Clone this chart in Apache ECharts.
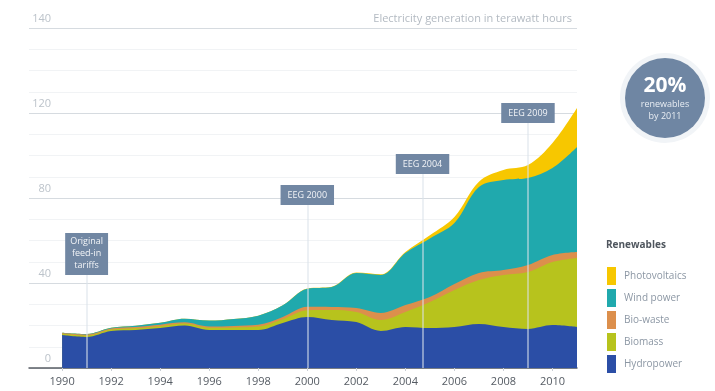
<!DOCTYPE html>
<html>
<head>
<meta charset="utf-8">
<script src="https://cdn.jsdelivr.net/npm/echarts@6/dist/echarts.min.js"></script>
<style>html,body{margin:0;padding:0;background:#fff}#c{width:715px;height:391px}</style>
</head>
<body>
<div id="c"></div>
<script>
const years = [1990,1991,1992,1993,1994,1995,1996,1997,1998,1999,2000,2001,2002,2003,2004,2005,2006,2007,2008,2009,2010,2011];
const hydropower    = [15.5,14.6,17.4,17.9,18.8,20.0,17.9,17.9,17.9,21.2,24.0,22.6,21.6,17.4,19.3,18.8,19.3,20.7,19.3,18.4,20.2,19.3];
const biomass       = [0.6,0.7,0.7,0.8,0.9,0.9,1.0,1.2,1.6,1.8,3.2,4.7,4.8,5.2,7.1,12.3,17.4,20.7,24.5,26.8,29.7,32.5];
const bioWaste      = [0.4,0.5,0.5,0.6,0.7,0.6,0.6,0.7,0.8,1.0,1.6,1.4,1.8,3.3,3.2,2.3,2.8,3.3,2.3,3.3,3.3,2.8];
const windPower     = [0.1,0.2,0.3,0.6,0.9,1.7,2.8,3.3,4.3,5.5,8.5,9.4,16.5,17.9,24.5,27.6,28.7,40.5,42.4,40.9,40.9,49.4];
const photovoltaics = [0,0,0,0,0,0,0,0,0,0,0.1,0.1,0.2,0.3,0.5,1.5,2.9,2.5,4.7,6.1,11.8,18.4];
const xTickLabels = [1990,1992,1994,1996,1998,2000,2002,2004,2006,2008,2010];
const yTickValues = [0,40,80,120,160];
const yTickLabels = ['0','40','80','120','140'];
const eventYears  = [1991, 2000, 2004.7, 2009];
const eventLabels = ['Original\nfeed-in\ntariffs', 'EEG 2000', 'EEG 2004', 'EEG 2009'];
const eventLineTops = [43.8, 76.7, 91.3, 115.3];

const names = ['Hydropower','Biomass','Bio-waste','Wind power','Photovoltaics'];
const colors = ['#2b4ea6','#b7c31d','#dc8f4c','#20a9ad','#f7c700'];
const values = [hydropower, biomass, bioWaste, windPower, photovoltaics];

// cumulative stack tops (bottom layer first)
const cumulative = [];
values.forEach((arr,i)=>{
  cumulative.push(arr.map((v,j)=> (i ? cumulative[i-1][j] : 0) + v));
});

const chart = echarts.init(document.getElementById('c'), null, {renderer:'canvas'});
const FONT = 'Open Sans';

// draw top layer first so lower layers paint over it (opaque => same as stacking)
const series = [];
for (let i = names.length - 1; i >= 0; i--) {
  series.push({
    name:names[i], type:'line', smooth:0.35, symbol:'none',
    lineStyle:{width:0}, areaStyle:{color:colors[i], opacity:1, origin:'start'},
    itemStyle:{color:colors[i]},
    data: years.map((y,j)=>[y, cumulative[i][j]])
  });
}

series.push({
  type:'line', data:[], silent:true, z:5,
  markLine:{
    silent:true, symbol:'none', animation:false,
    lineStyle:{color:'rgba(220,226,233,0.7)', width:1.5, type:'solid'},
    label:{show:true},
    data: eventYears.map((y,i)=>[
      {coord:[y,0]},
      {coord:[y,eventLineTops[i]],
       label:{show:true, position:'end', distance:0, formatter:eventLabels[i],
         backgroundColor:'#7187a3', color:'#f2f4f7', fontFamily:FONT,
         fontSize:9, lineHeight:12, padding: i===0?[3,5]:[4,7], align:'center'}}
    ])
  }
});

chart.setOption({
  animation:false,
  backgroundColor:'#ffffff',
  grid:{left:29, right:138, top:28, bottom:23, containLabel:false},
  xAxis:{
    type:'value', min:1988.65, max:2011,
    axisLine:{show:true, lineStyle:{color:'#5a5f66', width:1.5}},
    axisTick:{show:true, customValues:xTickLabels, length:3, lineStyle:{color:'#c9ced4'}},
    axisLabel:{customValues:xTickLabels, color:'#555b63', fontSize:11, fontFamily:FONT, margin:8,
      formatter:(v)=>String(Math.round(v))},
    splitLine:{show:false}
  },
  yAxis:{
    type:'value', min:0, max:160, interval:40,
    axisLine:{show:false}, axisTick:{show:false},
    axisLabel:{color:'#bcc3ca', fontSize:11, fontFamily:FONT, align:'right', margin:-22,
      verticalAlign:'bottom', padding:[0,0,4,0],
      formatter:(v)=>{const k=yTickValues.indexOf(v); return k>=0?yTickLabels[k]:'';}},
    splitLine:{show:true, lineStyle:{color:'#d6dbe0', width:1}},
    minorTick:{show:false, splitNumber:4},
    minorSplitLine:{show:true, lineStyle:{color:'#f1f3f5', width:1}}
  },
  legend:{
    orient:'vertical', left:602, top:262, itemWidth:9, itemHeight:18, itemGap:4,
    icon:'rect', data:['Photovoltaics','Wind power','Bio-waste','Biomass','Hydropower'],
    textStyle:{color:'#8c97a4', fontSize:10, fontFamily:FONT, padding:[0,0,0,3]},
    selectedMode:false
  },
  title:[
    {text:'Electricity generation in terawatt hours', right:138, top:8,
     textStyle:{color:'#b3bac2', fontSize:11, fontWeight:'normal', fontFamily:FONT}},
    {text:'Renewables', left:601, top:235,
     textStyle:{color:'#4f565e', fontSize:10, fontWeight:'bold', fontFamily:FONT}}
  ],
  graphic:[
    {type:'circle', shape:{cx:665, cy:98, r:45}, style:{fill:'#f1f4f7'}, z:1},
    {type:'circle', shape:{cx:665, cy:98, r:40}, style:{fill:'#6f86a3'}, z:2},
    {type:'text', x:665, y:86, z:3, style:{text:'20%', fill:'#ffffff', font:'bold 21px '+FONT, align:'center', verticalAlign:'middle'}},
    {type:'text', x:665, y:104, z:3, style:{text:'renewables', fill:'#e8edf3', font:'9px '+FONT, align:'center', verticalAlign:'middle'}},
    {type:'text', x:665, y:116, z:3, style:{text:'by 2011', fill:'#e8edf3', font:'9px '+FONT, align:'center', verticalAlign:'middle'}}
  ],
  series: series
});
</script>
</body>
</html>
